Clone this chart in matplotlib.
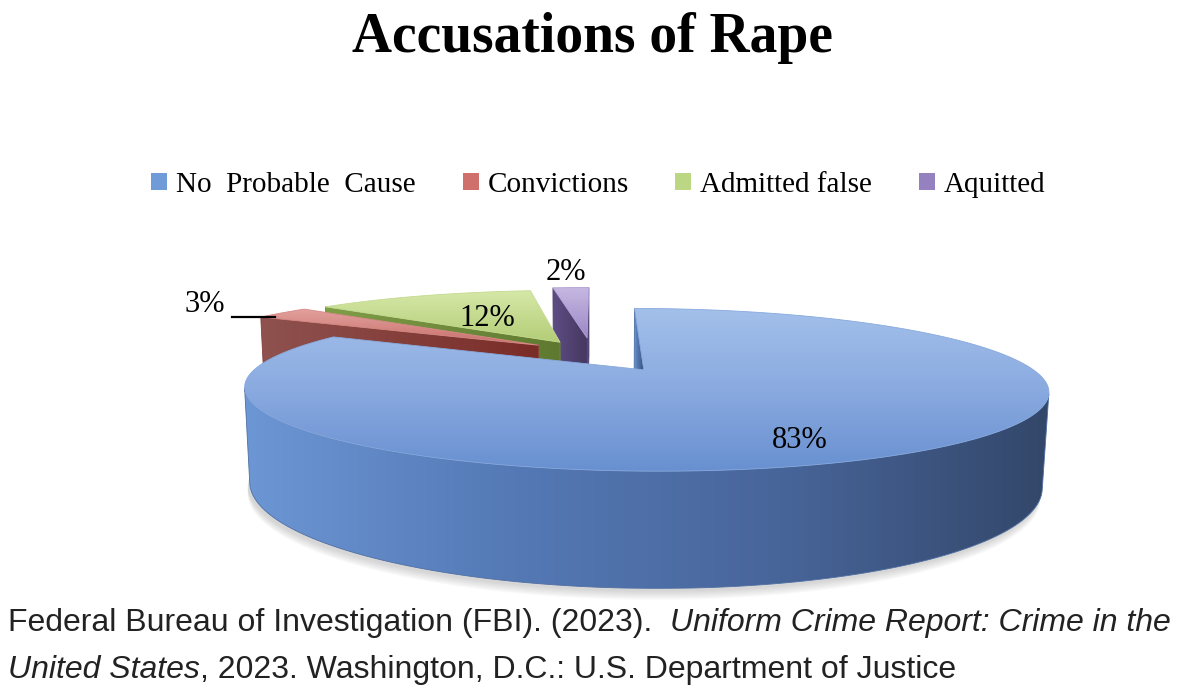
import numpy as np
import matplotlib.pyplot as plt
from matplotlib.patches import Polygon, Patch
from matplotlib.colors import to_rgb

# Data
categories = ['No  Probable  Cause', 'Convictions', 'Admitted false', 'Aquitted']
shares = [83, 3, 12, 2]
pct_labels = ['83%', '3%', '12%', '2%']

# Style
top_colors = [['#a3c0ea', '#8aaae0', '#6890d0'], ['#e3a29e', '#c96f6b'],
              ['#d6e8a8', '#b3cd77'], ['#c6b8e2', '#9c88c6']]
side_colors = [['#6c96d4', '#5479b5', '#48659a', '#33476a'], ['#8f524f', '#7a2c27'],
               ['#809d48', '#5f7a30'], ['#5d4d84', '#45375f']]
legend_colors = ['#6f9bd8', '#d0706c', '#bcd783', '#9580c0']
explode = [(0.0, 0), (0.45, 129), (0.455, 119.5), (0.488, 107.7)]  # distance, direction in degrees

# 3D view (pixel space)
ELEV = np.radians(14)
DIST = 4.0
FOC_X, FOC_Y = 1537, 1608
CAM_X = -0.12
U0, V0 = 597, 460
H = 0.228
S, C = np.sin(ELEV), np.cos(ELEV)
CAM = np.array([CAM_X, -DIST * C, DIST * S])

W, HT = 1200, 699


def proj(X, Y, Z):
    X, Y, Z = np.asarray(X, float), np.asarray(Y, float), np.asarray(Z, float)
    d = DIST + Y * C - Z * S
    return U0 + FOC_X * (X - CAM_X) / d, V0 - FOC_Y * (Y * S + Z * C) / d


def grad_fill(ax, u, v, colors, vertical=True, zorder=2):
    patch = Polygon(np.column_stack([u, v]), closed=True, facecolor='none',
                    edgecolor='none', zorder=zorder)
    ax.add_patch(patch)
    rgb = np.array([to_rgb(c) for c in colors])
    t = np.linspace(0, 1, 128)
    pos = np.linspace(0, 1, len(colors))
    g = np.stack([np.interp(t, pos, rgb[:, k]) for k in range(3)], axis=-1)
    img = g[:, None, :] if vertical else g[None, :, :]
    im = ax.imshow(img, extent=(u.min(), u.max(), v.max(), v.min()), origin='upper',
                   aspect='auto', interpolation='bilinear', zorder=zorder)
    im.set_clip_path(patch)
    mid = rgb.mean(axis=0)
    ax.add_patch(Polygon(np.column_stack([u, v]), closed=True, facecolor='none',
                         edgecolor=mid, lw=0.6, zorder=zorder))


def facing(px, py, nx, ny):
    return (CAM[0] - px) * nx + (CAM[1] - py) * ny > 0


fig = plt.figure(figsize=(12, 6.99), dpi=100)
ax = fig.add_axes([0, 0, 1, 1])
ax.set_xlim(0, W)
ax.set_ylim(HT, 0)
ax.set_autoscale_on(False)
ax.axis('off')

# slice angles, clockwise from 12 o'clock
bounds = 90 - 3.6 * np.concatenate([[0], np.cumsum(shares)])
slices = []
for i in range(len(shares)):
    dist, ang = explode[i]
    ox, oy = dist * np.cos(np.radians(ang)), dist * np.sin(np.radians(ang))
    slices.append((i, bounds[i], bounds[i + 1], ox, oy))

# soft shadow under the main slice
th_all = np.radians(np.linspace(0, 360, 300))
for k in range(8):
    u, v = proj(np.cos(th_all), np.sin(th_all), 0)
    ax.fill(u - 2, v + 3 + 1.2 * k, color='#808080', alpha=0.045, lw=0, zorder=1)

# far slices first
for i, a1, a2, ox, oy in sorted(slices, key=lambda s: -s[4]):
    th = np.radians(np.linspace(a2, a1, 300))
    rx, ry = ox + np.cos(th), oy + np.sin(th)

    # radial faces
    for edge, sign in ((a1, 1), (a2, -1)):
        t = np.radians(edge)
        nx, ny = -sign * np.sin(t), sign * np.cos(t)
        if facing(ox + 0.5 * np.cos(t), oy + 0.5 * np.sin(t), nx, ny):
            X = [ox + np.cos(t), ox, ox, ox + np.cos(t)]
            Y = [oy + np.sin(t), oy, oy, oy + np.sin(t)]
            u, v = proj(X, Y, [0, 0, H, H])
            grad_fill(ax, u, v, side_colors[i], vertical=False)

    # outer wall
    vis = facing(rx, ry, np.cos(th), np.sin(th))
    if vis.any():
        idx = np.where(vis)[0]
        ut, vt = proj(rx[idx], ry[idx], H)
        ub, vb = proj(rx[idx][::-1], ry[idx][::-1], 0)
        grad_fill(ax, np.concatenate([ut, ub]), np.concatenate([vt, vb]),
                  side_colors[i], vertical=False)

    # top face
    u, v = proj(np.concatenate([[ox], rx]), np.concatenate([[oy], ry]), H)
    grad_fill(ax, u, v, top_colors[i], vertical=True, zorder=3)

# percentage labels
serif = ['Liberation Serif', 'DejaVu Serif']
ax.text(800, 440, pct_labels[0], fontsize=22, family=serif, ha='center', va='center', zorder=5)
ax.text(487, 318, pct_labels[2], fontsize=22, family=serif, ha='center', va='center', zorder=5)
ax.text(566, 272, pct_labels[3], fontsize=22, family=serif, ha='center', va='center', zorder=5)
ax.text(205, 305, pct_labels[1], fontsize=22, family=serif, ha='center', va='center', zorder=5)
# leader line for the small slice
i, a1, a2, ox, oy = slices[1]
lu, lv = proj(ox + np.cos(np.radians(a1)), oy + np.sin(np.radians(a1)), H)
ax.plot([232, lu + 14], [lv, lv], color='black', lw=1.6, zorder=5)

# title
fig.text(0.494, 1 - 38 / HT, 'Accusations of Rape', ha='center', va='center',
         fontsize=40, fontweight='bold', family=serif)

# legend
handles = [Patch(facecolor=c, edgecolor='none') for c in legend_colors]
fig.legend(handles, categories, loc='center', bbox_to_anchor=(0.4985, 1 - 185 / HT),
           ncol=4, frameon=False, handlelength=0.55, handleheight=0.55,
           handletextpad=0.3, columnspacing=1.6,
           prop={'family': serif, 'size': 21})

# source note, mixed upright / italic
sans = ['Liberation Sans Narrow', 'Liberation Sans', 'DejaVu Sans']
renderer = fig.canvas.get_renderer()
lines = [(623, [('Federal Bureau of Investigation (FBI). (2023).  ', 'normal'),
                ('Uniform Crime Report: Crime in the', 'italic')]),
         (670, [('United States', 'italic'),
                (', 2023. Washington, D.C.: U.S. Department of Justice', 'normal')])]
for y, parts in lines:
    x = 8 / W
    for txt, st in parts:
        t = fig.text(x, 1 - y / HT, txt, style=st, fontsize=23, family=sans,
                     ha='left', va='center', color='#222222')
        x = t.get_window_extent(renderer=renderer).x1 / fig.bbox.width

fig.savefig('out.png', dpi=100)
